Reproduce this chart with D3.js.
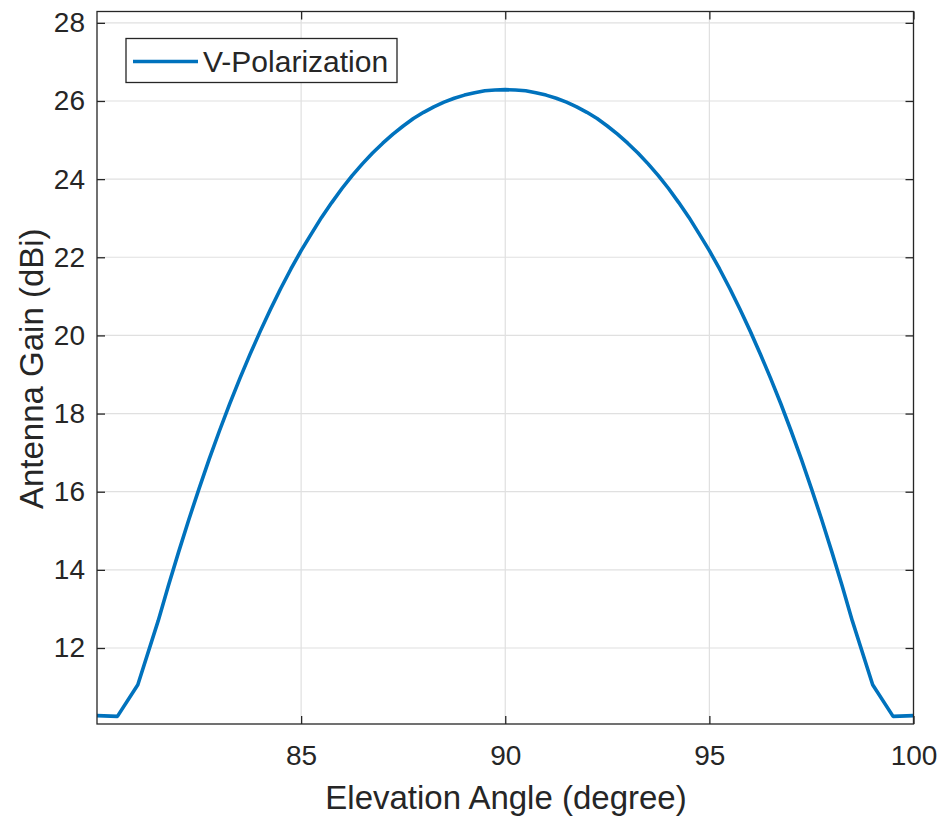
<!DOCTYPE html>
<html>
<head>
<meta charset="utf-8">
<script src="https://cdn.jsdelivr.net/npm/d3@7"></script>
<style>
  html, body { margin: 0; padding: 0; background: #fff; }
  svg { display: block; }
  text { font-family: "Liberation Sans", Arial, Helvetica, sans-serif; fill: #262626; }
</style>
</head>
<body>
<svg id="chart" width="942" height="818"></svg>
<script>
// ---- data ----
const angles = [80, 80.5, 81, 81.5, 81.75, 82, 82.25, 82.5, 82.75, 83, 83.25, 83.5, 83.75, 84, 84.25, 84.5, 84.75,
                85, 85.25, 85.5, 85.75, 86, 86.25, 86.5, 86.75, 87, 87.25, 87.5, 87.75, 88, 88.25, 88.5, 88.75,
                89, 89.25, 89.5, 89.75, 90, 90.25, 90.5, 90.75, 91, 91.25, 91.5, 91.75, 92, 92.25, 92.5, 92.75,
                93, 93.25, 93.5, 93.75, 94, 94.25, 94.5, 94.75, 95, 95.25, 95.5, 95.75, 96, 96.25, 96.5, 96.75,
                97, 97.25, 97.5, 97.75, 98, 98.25, 98.5, 99, 99.5, 100];
const gainV = [10.27, 10.25, 11.06, 12.70, 13.60, 14.46, 15.29, 16.08, 16.84, 17.56, 18.25, 18.90, 19.52, 20.11, 20.67, 21.20, 21.70,
               22.17, 22.60, 23.02, 23.40, 23.76, 24.09, 24.39, 24.67, 24.92, 25.15, 25.36, 25.55, 25.71, 25.85, 25.97, 26.07,
               26.15, 26.21, 26.26, 26.28, 26.29, 26.28, 26.26, 26.21, 26.15, 26.07, 25.97, 25.85, 25.71, 25.55, 25.36, 25.15,
               24.92, 24.67, 24.39, 24.09, 23.76, 23.40, 23.02, 22.60, 22.17, 21.70, 21.20, 20.67, 20.11, 19.52, 18.90, 18.25,
               17.56, 16.84, 16.08, 15.29, 14.46, 13.60, 12.70, 11.06, 10.25, 10.27];
const xTicks = [85, 90, 95, 100];
const yTicks = [12, 14, 16, 18, 20, 22, 24, 26, 28];
const seriesName = "V-Polarization";
const xLabel = "Elevation Angle (degree)";
const yLabel = "Antenna Gain (dBi)";

// ---- layout ----
const L = 97, R = 913.5, T = 11.5, B = 724;
const svg = d3.select("#chart");
const x = d3.scaleLinear().domain([80, 100]).range([L, R]);
const y = d3.scaleLinear().domain([10.055, 28.29]).range([B, T]);
const tickLen = 8;
const axisColor = "#262626";
const gridColor = "#e0e0e0";
const tickFont = 28;

// grid
const grid = svg.append("g");
grid.selectAll("line.gx").data(xTicks).join("line")
  .attr("x1", d => x(d)).attr("x2", d => x(d)).attr("y1", T).attr("y2", B)
  .attr("stroke", gridColor).attr("stroke-width", 1.2);
grid.selectAll("line.gy").data(yTicks).join("line")
  .attr("x1", L).attr("x2", R).attr("y1", d => y(d)).attr("y2", d => y(d))
  .attr("stroke", gridColor).attr("stroke-width", 1.2);

// axes
const axB = d3.axisBottom(x).tickValues(xTicks).tickSizeInner(-tickLen).tickSizeOuter(0).tickPadding(21).tickFormat(d3.format("d"));
const axT = d3.axisTop(x).tickValues(xTicks).tickSizeInner(-tickLen).tickSizeOuter(0).tickFormat("");
const axL = d3.axisLeft(y).tickValues(yTicks).tickSizeInner(-tickLen).tickSizeOuter(0).tickPadding(12).tickFormat(d3.format("d"));
const axR = d3.axisRight(y).tickValues(yTicks).tickSizeInner(-tickLen).tickSizeOuter(0).tickFormat("");

function style(g) {
  g.select(".domain").remove();
  g.selectAll(".tick line").attr("stroke", axisColor).attr("stroke-width", 1.3);
  g.selectAll(".tick text").attr("fill", axisColor).style("font-size", tickFont + "px")
    .style("font-family", '"Liberation Sans", Arial, sans-serif');
}
svg.append("g").attr("transform", `translate(0,${B})`).call(axB).call(style);
svg.append("g").attr("transform", `translate(0,${T})`).call(axT).call(style);
svg.append("g").attr("transform", `translate(${L},0)`).call(axL).call(style);
svg.append("g").attr("transform", `translate(${R},0)`).call(axR).call(style);

// line
svg.append("defs").append("clipPath").attr("id", "clip")
  .append("rect").attr("x", L).attr("y", T).attr("width", R - L).attr("height", B - T);
const lineGen = d3.line().x((d, i) => x(angles[i])).y(d => y(d));
svg.append("path").datum(gainV)
  .attr("d", lineGen).attr("fill", "none")
  .attr("stroke", "#0072BD").attr("stroke-width", 3.6)
  .attr("stroke-linejoin", "round")
  .attr("clip-path", "url(#clip)");

// box
svg.append("rect").attr("x", L).attr("y", T).attr("width", R - L).attr("height", B - T)
  .attr("fill", "none").attr("stroke", axisColor).attr("stroke-width", 1.3);

// legend
const lg = svg.append("g");
lg.append("rect").attr("x", 126).attr("y", 38.5).attr("width", 271).attr("height", 44)
  .attr("fill", "#fff").attr("stroke", axisColor).attr("stroke-width", 1.3);
lg.append("line").attr("x1", 133).attr("x2", 198).attr("y1", 61.5).attr("y2", 61.5)
  .attr("stroke", "#0072BD").attr("stroke-width", 3.6);
lg.append("text").attr("x", 203).attr("y", 61.5).attr("dy", "0.36em")
  .style("font-size", "30px").text(seriesName);

// axis labels
svg.append("text").attr("x", 506).attr("y", 809).attr("text-anchor", "middle")
  .style("font-size", "33px").text(xLabel);
svg.append("text").attr("transform", `translate(43,${(T + B) / 2 + 1}) rotate(-90)`)
  .attr("text-anchor", "middle").style("font-size", "33px").text(yLabel);
</script>
</body>
</html>
